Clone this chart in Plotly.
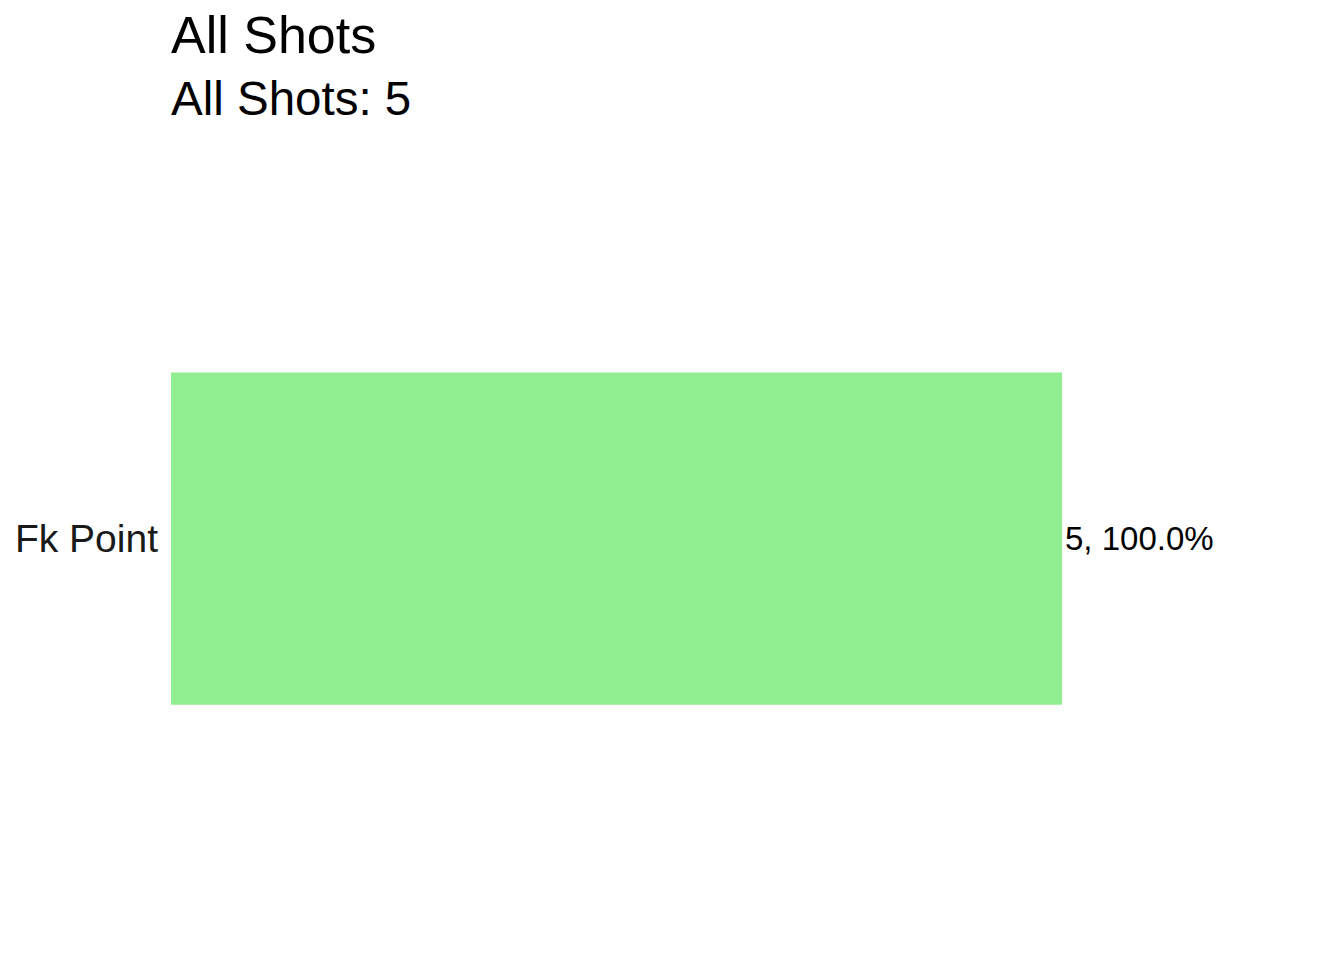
import plotly.graph_objects as go

categories = ["Fk Point"]
counts = [5]
percents = [100.0]
title_text = "All Shots"
subtitle_text = "All Shots: 5"

labels = [f"{c}, {p:.1f}%" for c, p in zip(counts, percents)]

W, H = 1344, 960
plot_left, plot_right = 171, 1334
plot_top, plot_bottom = 316.5, 760.5
plot_h = plot_bottom - plot_top
bar_end_px = 1062
xmax = max(counts) * (plot_right - plot_left) / (bar_end_px - plot_left)

fig = go.Figure(go.Bar(
    x=counts, y=categories, orientation="h",
    marker=dict(color="#90EE90", line=dict(width=0)),
    width=0.9,
    text=labels, textposition="outside", cliponaxis=False,
    textfont=dict(family="Liberation Sans, Arial, sans-serif", size=33, color="#000000"),
))

fig.update_layout(
    width=W, height=H,
    margin=dict(l=plot_left, r=W - plot_right, t=plot_top, b=H - plot_bottom, pad=0),
    plot_bgcolor="white", paper_bgcolor="white",
    showlegend=False,
    font=dict(family="Liberation Sans, Arial, sans-serif"),
    xaxis=dict(range=[0, xmax], visible=False, showgrid=False, zeroline=False),
    yaxis=dict(range=[-0.6, 0.6], showgrid=False, zeroline=False, showline=False,
               ticks="", ticklabelstandoff=12,
               tickfont=dict(size=39, color="#1a1a1a",
                             family="Liberation Sans, Arial, sans-serif")),
    annotations=[
        dict(text=title_text, xref="paper", yref="paper", x=0, xanchor="left", xshift=-2,
             y=(plot_bottom - 34) / plot_h, yanchor="middle", showarrow=False,
             font=dict(size=52, color="#000000")),
        dict(text=subtitle_text, xref="paper", yref="paper", x=0, xanchor="left", xshift=-2,
             y=(plot_bottom - 98) / plot_h, yanchor="middle", showarrow=False,
             font=dict(size=47.5, color="#000000")),
    ],
)

fig.write_html("out.html")
